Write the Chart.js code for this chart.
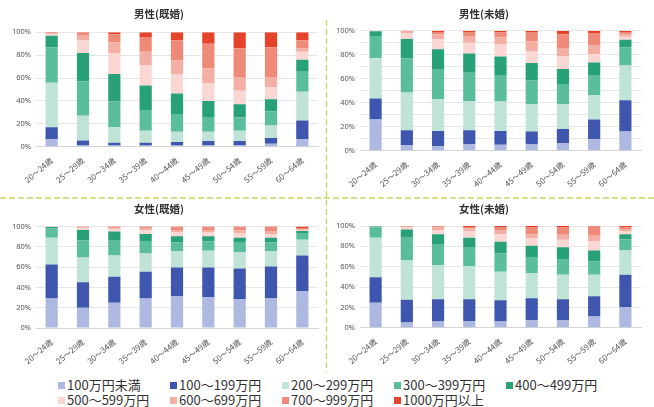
<!DOCTYPE html>
<html>
<head>
<meta charset="utf-8">
<script src="https://cdn.jsdelivr.net/npm/chart.js@4.4.1/dist/chart.umd.min.js"></script>
<style>
  html, body { margin: 0; padding: 0; background: #fff; }
  body { width: 654px; height: 407px; position: relative; overflow: hidden;
         font-family: "Noto Sans CJK JP", "Noto Sans", sans-serif; }
  canvas { position: absolute; }
  #sep { position: absolute; left: 0; top: 0; }
  #legend { position: absolute; left: 58px; top: 377px; width: 590px; font-size: 13px; color: #333; line-height: 15px; }
  #legend .row { height: 15px; white-space: nowrap; }
  #legend .item { display: inline-block; width: 112px; }
  #legend .sw { display: inline-block; width: 7px; height: 7px; margin-right: 2px; vertical-align: 1px; }
</style>
</head>
<body>
<svg id="sep" width="654" height="407">
  <line x1="0" y1="198" x2="654" y2="198" stroke="#c9d35f" stroke-width="1.3" stroke-dasharray="6 3"/>
  <line x1="326.5" y1="20" x2="326.5" y2="372" stroke="#c9d35f" stroke-width="1.3" stroke-dasharray="6 3"/>
</svg>
<canvas id="c1" width="326" height="197" style="left:0;top:0"></canvas>
<canvas id="c2" width="327" height="197" style="left:327px;top:0"></canvas>
<canvas id="c3" width="326" height="172" style="left:0;top:198px"></canvas>
<canvas id="c4" width="327" height="172" style="left:327px;top:198px"></canvas>
<div id="legend"></div>
<script>
// Age groups on the x axis
const ageGroups = ['20～24歳', '25～29歳', '30～34歳', '35～39歳', '40～44歳',
                   '45～49歳', '50～54歳', '55～59歳', '60～64歳'];

// Annual income bands (stack order, bottom to top)
const incomeBands = ['100万円未満', '100～199万円', '200～299万円', '300～399万円', '400～499万円',
                     '500～599万円', '600～699万円', '700～999万円', '1000万円以上'];

// Share (%) of each income band, one row per age group
const maleMarried = [
  [6.5, 10.5, 39, 31, 10, 1, 1, 0.5, 0.5],
  [1, 4.5, 21.5, 30, 25, 11, 4, 2.5, 0.5],
  [1, 2.5, 13.5, 22.5, 24, 18.5, 9, 7, 2],
  [1, 2.5, 10.5, 18, 21.5, 18, 11.5, 13, 4],
  [1, 3, 9, 15.5, 18, 17, 12, 17.5, 7],
  [1.5, 3.5, 8, 13, 14, 15.5, 13, 21.5, 10],
  [1.5, 3.5, 9, 11.5, 11.5, 12, 12, 25, 14],
  [2.5, 5, 11, 12.5, 10.5, 10.5, 9, 26, 13],
  [6.5, 16.5, 25, 17.5, 10.5, 7, 3, 7, 7]
];
const maleSingle = [
  [26, 17.5, 33.5, 18, 4.5, 0.2, 0.1, 0.1, 0.1],
  [4.5, 12.5, 31.5, 28.5, 16, 5, 1.2, 0.5, 0.3],
  [4, 12.5, 26.5, 25, 16.5, 8.5, 4, 2, 1],
  [5.5, 11.5, 24.5, 23.5, 16, 9, 5, 4, 1],
  [5, 11.5, 24.5, 21.5, 16, 10.5, 5.5, 4, 1.5],
  [5.5, 10.5, 23, 19.5, 14.5, 10, 8, 8, 1],
  [6.5, 11.5, 21, 16.5, 12.5, 10.5, 6.5, 12, 3],
  [9.5, 16.5, 20.5, 16, 11, 7, 7.5, 10, 2],
  [16, 26, 29, 15, 6.5, 2.5, 2, 2, 1]
];
const femaleMarried = [
  [29, 33.5, 26.5, 9, 1.5, 0.2, 0.1, 0.1, 0.1],
  [20, 25, 24.5, 17, 10, 2, 0.7, 0.5, 0.3],
  [25, 25.5, 21, 14.5, 9, 2, 1.3, 1, 0.7],
  [29, 26.5, 18, 11.5, 7.5, 4, 2, 1, 0.5],
  [31.5, 28, 16, 9, 6, 3.5, 2.5, 2.5, 1],
  [30.5, 29, 16.5, 9.5, 5, 3.5, 2.5, 2.5, 1],
  [28.5, 30, 16.5, 9, 5, 4, 3, 3, 1],
  [29.5, 31, 15, 9, 4.5, 3.5, 3, 4, 0.5],
  [36.5, 35, 15.5, 6.5, 2, 1, 1, 1, 1.5]
];
const femaleSingle = [
  [24.5, 25, 39, 10, 1.1, 0.1, 0.1, 0.1, 0.1],
  [5, 22.5, 39, 22, 8, 2, 0.7, 0.5, 0.3],
  [6, 22, 33.5, 20, 10.5, 4, 2.5, 1, 0.5],
  [6.5, 21.5, 32.5, 18, 10, 6, 3, 1.5, 1],
  [6, 21, 28, 18, 11.5, 7.5, 4, 3, 1],
  [7.5, 21.5, 24.5, 16, 11, 7.5, 4, 7, 1],
  [7.5, 20.5, 24, 15.5, 11.5, 7.5, 5, 7.5, 1],
  [11, 20, 21, 13, 11, 9, 5.5, 9, 0.5],
  [20, 32, 24, 11, 5, 3, 2, 1.5, 1.5]
];

// Fill colour of each income band
const bandColors = ['#aeb9e1', '#3f56ae', '#bfe3d7', '#5bbe9a', '#28a078',
                    '#fad7d2', '#f4afa5', '#ef8a79', '#e6432b'];

const tickFont = { family: '"Noto Sans CJK JP", "Noto Sans", sans-serif', size: 8 };

function drawPanel(id, title, rows, box) {
  const datasets = incomeBands.map((band, b) => ({
    label: band,
    data: rows.map(r => r[b]),
    backgroundColor: bandColors[b],
    borderWidth: 0,
    barPercentage: 0.39,
    categoryPercentage: 1
  }));
  new Chart(document.getElementById(id), {
    type: 'bar',
    data: { labels: ageGroups, datasets },
    options: {
      responsive: false,
      animation: false,
      devicePixelRatio: 1,
      layout: { padding: { left: 0, right: box.padRight, top: 0, bottom: 0 } },
      plugins: {
        legend: { display: false },
        tooltip: { enabled: false },
        title: {
          display: true,
          text: title,
          color: '#333',
          font: { family: '"Noto Sans CJK JP", sans-serif', size: 10.5, weight: 'bold', lineHeight: 1.2 },
          padding: { top: box.titleTop, bottom: box.titleBottom }
        }
      },
      scales: {
        x: {
          stacked: true,
          grid: { display: false },
          border: { color: '#d4d4d4' },
          ticks: { minRotation: 40, maxRotation: 40, autoSkip: false, font: tickFont, color: '#555', padding: 1 },
          afterFit: s => { s.height = box.xAxisH; }
        },
        y: {
          stacked: true,
          min: 0,
          max: 100,
          grid: { color: '#e6e6e6', drawTicks: false },
          border: { display: false },
          ticks: {
            stepSize: 10,
            font: { family: '"Noto Sans", sans-serif', size: 7.5 },
            color: '#555',
            padding: 5,
            callback: v => (v % 20 === 0 ? v + '%' : '')
          },
          afterFit: s => { s.width = box.yAxisW; }
        }
      }
    }
  });
}

drawPanel('c1', '男性(既婚)', maleMarried,   { yAxisW: 36, padRight: 8,  xAxisH: 50.3, titleTop: 8,   titleBottom: 11.7 });
drawPanel('c2', '男性(未婚)', maleSingle,    { yAxisW: 33, padRight: 13, xAxisH: 46.3, titleTop: 8,   titleBottom: 10.1 });
drawPanel('c3', '女性(既婚)', femaleMarried, { yAxisW: 36, padRight: 8,  xAxisH: 42,   titleTop: 4.5, titleBottom: 11.4 });
drawPanel('c4', '女性(未婚)', femaleSingle,  { yAxisW: 33, padRight: 13, xAxisH: 42.3, titleTop: 4.5, titleBottom: 10.9 });

// Shared legend, five items per row
const legend = document.getElementById('legend');
for (let start = 0; start < incomeBands.length; start += 5) {
  const row = document.createElement('div');
  row.className = 'row';
  incomeBands.slice(start, start + 5).forEach((band, k) => {
    const item = document.createElement('span');
    item.className = 'item';
    const sw = document.createElement('span');
    sw.className = 'sw';
    sw.style.background = bandColors[start + k];
    item.appendChild(sw);
    item.appendChild(document.createTextNode(band));
    row.appendChild(item);
  });
  legend.appendChild(row);
}
</script>
</body>
</html>
